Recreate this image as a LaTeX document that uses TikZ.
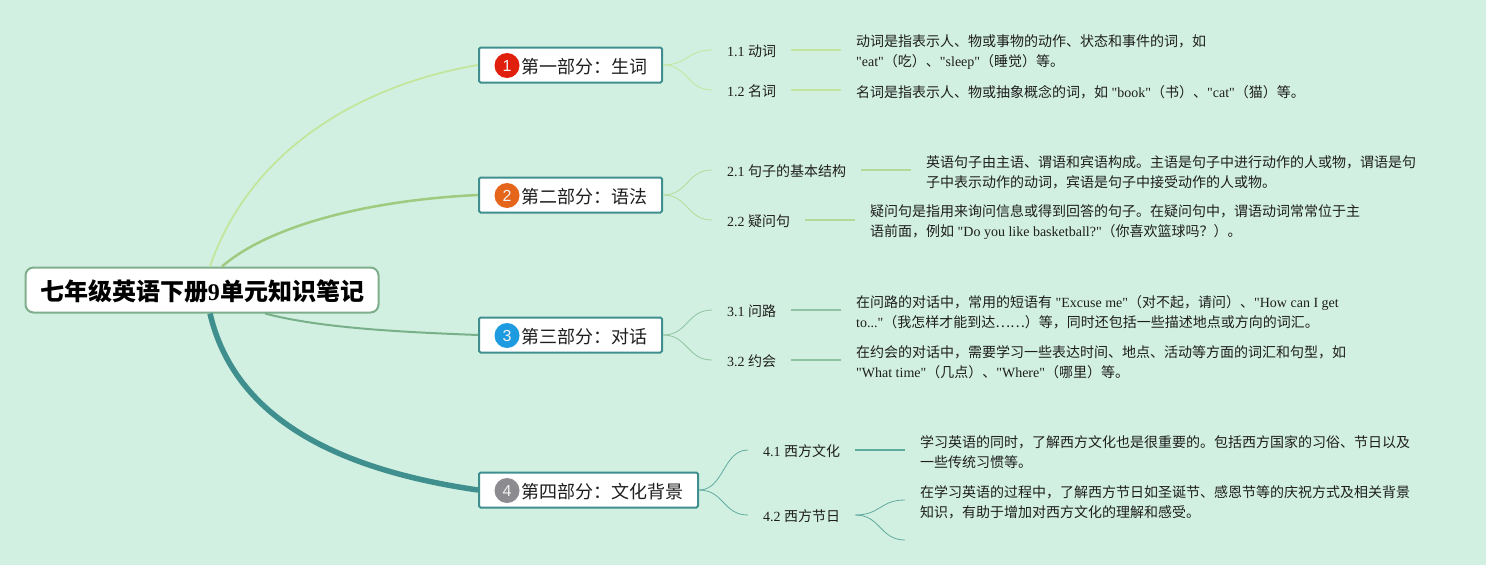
\documentclass[tikz,border=0pt]{standalone}
\usepackage{fontspec}
\newfontfamily\latin{Liberation Serif}
\newfontfamily\cjk{Noto Sans CJK SC}
\newfontfamily\digitfont{Liberation Sans}
\newcommand{\zh}[1]{{\cjk #1}}
\definecolor{bgmint}{HTML}{D2F0E1}
\definecolor{inkdark}{HTML}{1E1E1E}
\definecolor{framerim}{HTML}{3F8F8F}
\definecolor{rootrim}{HTML}{7FAE8C}
\definecolor{greenA}{HTML}{C2E69C}
\definecolor{greenB}{HTML}{B4DA98}
\definecolor{greenC}{HTML}{8FC4A2}
\definecolor{greenD}{HTML}{5FAB9F}
\definecolor{stemB}{HTML}{9FCB80}
\definecolor{stemC}{HTML}{78B08A}
\tikzset{
    rootbox/.style={draw=rootrim,line width=2pt,fill=white,rounded corners=8pt,minimum width=353pt,minimum height=45pt,inner sep=0pt,text height=21pt,text depth=0pt,font=\latin\fontsize{24pt}{28pt}\selectfont\bfseries},
    partbox/.style={draw=framerim,line width=2pt,fill=white,rounded corners=1.5pt,anchor=west,minimum height=35pt,inner ysep=0pt,inner xsep=15pt,text=inkdark,text height=17pt,text depth=0.4pt,font=\latin\fontsize{18pt}{22pt}\selectfont},
    badge/.style={circle,minimum size=25pt,inner sep=0pt,text=white!90!gray,font=\digitfont\fontsize{16pt}{18pt}\selectfont},
    leaf/.style={anchor=west,inner ysep=2pt,inner xsep=15pt,text=inkdark,text height=13pt,text depth=0.4pt,font=\latin\fontsize{14pt}{20pt}\selectfont},
    detail/.style={anchor=west,align=left,inner ysep=2pt,inner xsep=15pt,text=inkdark,font=\latin\fontsize{14pt}{20pt}\selectfont},
    twig/.style={line width=0.8pt},
    stem/.style={line width=1.5pt}
}
\newcommand{\twigcurve}[3]{\draw[twig,#1] (#2) .. controls +(25,0) and +(-25,0) .. (#3);}
\begin{document}
\begin{tikzpicture}[x=1pt,y=-1pt]
    \useasboundingbox (0,0) rectangle (1486,565);
    \fill[bgmint] (0,0) rectangle (1486,565);
    % --- ROOT AND PARTS ---
    \node[rootbox] (root) at (202,290) {\zh{七年级英语下册}9\zh{单元知识笔记}};
    \node[partbox] (part1) at (478,65) {\hspace*{27pt}\zh{第一部分：生词}};
    \node[partbox] (part2) at (478,195) {\hspace*{27pt}\zh{第二部分：语法}};
    \node[partbox] (part3) at (478,335) {\hspace*{27pt}\zh{第三部分：对话}};
    \node[partbox] (part4) at (478,490) {\hspace*{27pt}\zh{第四部分：文化背景}};
    \node[badge,fill={rgb,255:red,224;green,32;blue,12}] (badge1) at (507,65.5) {1};
    \node[badge,fill={rgb,255:red,229;green,101;blue,26}] (badge2) at (507,195.5) {2};
    \node[badge,fill={rgb,255:red,30;green,155;blue,224}] (badge3) at (507,335.5) {3};
    \node[badge,fill={rgb,255:red,140;green,140;blue,144}] (badge4) at (507,490.5) {4};
    \draw[greenA,line width=1.8pt] ([xshift=8]root.north) .. controls (250,150) and (360,85) .. (part1.west);
    \draw[stemB,line width=2.5pt] ([xshift=20]root.north) .. controls (270,225) and (370,200) .. (part2.west);
    \draw[stemC,line width=2pt] ([xshift=63]root.south) .. controls (320,328) and (400,332) .. (part3.west);
    \draw[framerim,line width=5.5pt] ([xshift=8]root.south) .. controls (235,420) and (340,470) .. (part4.west);
    % --- FIRST PART ---
    \node[leaf] (leaf11) at (712,50) {1.1 \zh{动词}};
    \node[leaf] (leaf12) at (712,90) {1.2 \zh{名词}};
    \node[detail] (note11) at (841,52) {\zh{动词是指表示人、物或事物的动作、状态和事件的词，如}\\"eat"\zh{（吃）、}"sleep"\zh{（睡觉）等。}};
    \node[detail] (note12) at (841,92) {\zh{名词是指表示人、物或抽象概念的词，如} "book"\zh{（书）、}"cat"\zh{（猫）等。}};
    \twigcurve{greenA}{part1.east}{leaf11.west}
    \twigcurve{greenA}{part1.east}{leaf12.west}
    \draw[stem,greenA] (leaf11.east) -- (note11.west |- leaf11.east);
    \draw[stem,greenA] (leaf12.east) -- (note12.west |- leaf12.east);
    % --- SECOND PART ---
    \node[leaf] (leaf21) at (712,170) {2.1 \zh{句子的基本结构}};
    \node[leaf] (leaf22) at (712,220) {2.2 \zh{疑问句}};
    \node[detail] (note21) at (911,172) {\zh{英语句子由主语、谓语和宾语构成。主语是句子中进行动作的人或物，谓语是句}\\\zh{子中表示动作的动词，宾语是句子中接受动作的人或物。}};
    \node[detail] (note22) at (855,222) {\zh{疑问句是指用来询问信息或得到回答的句子。在疑问句中，谓语动词常常位于主}\\\zh{语前面，例如} "Do you like basketball?"\zh{（你喜欢篮球吗？）。}};
    \twigcurve{greenB}{part2.east}{leaf21.west}
    \twigcurve{greenB}{part2.east}{leaf22.west}
    \draw[stem,greenB] (leaf21.east) -- (note21.west |- leaf21.east);
    \draw[stem,greenB] (leaf22.east) -- (note22.west |- leaf22.east);
    % --- THIRD PART ---
    \node[leaf] (leaf31) at (712,310) {3.1 \zh{问路}};
    \node[leaf] (leaf32) at (712,360) {3.2 \zh{约会}};
    \node[detail] (note31) at (841,312) {\zh{在问路的对话中，常用的短语有} "Excuse me"\zh{（对不起，请问）、}"How can I get\\to..."\zh{（我怎样才能到达……）等，同时还包括一些描述地点或方向的词汇。}};
    \node[detail] (note32) at (841,362) {\zh{在约会的对话中，需要学习一些表达时间、地点、活动等方面的词汇和句型，如}\\"What time"\zh{（几点）、}"Where"\zh{（哪里）等。}};
    \twigcurve{greenC}{part3.east}{leaf31.west}
    \twigcurve{greenC}{part3.east}{leaf32.west}
    \draw[stem,greenC] (leaf31.east) -- (note31.west |- leaf31.east);
    \draw[stem,greenC] (leaf32.east) -- (note32.west |- leaf32.east);
    % --- FOURTH PART ---
    \node[leaf] (leaf41) at (748,450) {4.1 \zh{西方文化}};
    \node[leaf] (leaf42) at (748,515) {4.2 \zh{西方节日}};
    \node[detail] (note41) at (905,452) {\zh{学习英语的同时，了解西方文化也是很重要的。包括西方国家的习俗、节日以及}\\\zh{一些传统习惯等。}};
    \node[detail] (note42) at (905,502) {\zh{在学习英语的过程中，了解西方节日如圣诞节、感恩节等的庆祝方式及相关背景}\\\zh{知识，有助于增加对西方文化的理解和感受。}};
    \coordinate (blank42) at (905,540);
    \twigcurve{greenD}{part4.east}{leaf41.west}
    \twigcurve{greenD}{part4.east}{leaf42.west}
    \draw[stem,greenD] (leaf41.east) -- (note41.west |- leaf41.east);
    \twigcurve{greenD}{leaf42.east}{[yshift=2pt]note42.west}
    \twigcurve{greenD}{leaf42.east}{blank42}
\end{tikzpicture}
\end{document}
